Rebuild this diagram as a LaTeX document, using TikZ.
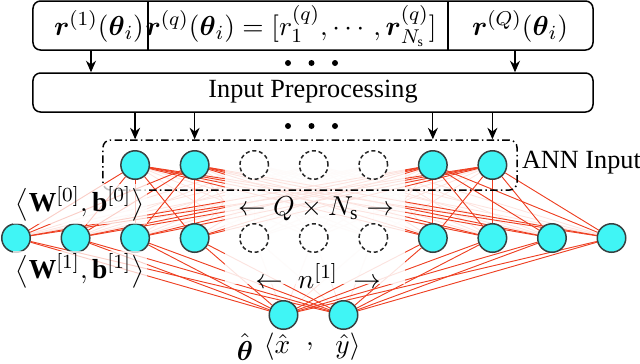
\documentclass[tikz,border=0pt]{standalone}
\usepackage{amsmath}
\usepackage{fontspec}
\setmainfont{Liberation Serif}
\usetikzlibrary{arrows.meta}
\pgfdeclarelayer{bg}
\pgfsetlayers{bg,main}
\definecolor{nodecyan}{RGB}{64,245,245}
\definecolor{nodeedge}{RGB}{55,65,65}
\definecolor{wire}{RGB}{238,62,32}
\tikzset{
  unit/.style={circle, minimum size=11.4pt, inner sep=0pt, fill=nodecyan, draw=nodeedge, line width=0.6pt},
  ghost/.style={circle, minimum size=11.4pt, inner sep=0pt, fill=white, draw=black!85, dash pattern=on 1.6pt off 1.1pt, line width=0.6pt},
  wirel/.style={draw=wire, line width=0.35pt},
  faint/.style={draw=wire!14, line width=0.35pt},
  box/.style={draw, rounded corners=3pt, line width=0.6pt, inner sep=0pt},
  annbox/.style={draw, rounded corners=3pt, line width=0.6pt, inner sep=0pt, dash pattern=on 3pt off 1.3pt on 0.6pt off 1.3pt},
  arr/.style={-{Stealth[length=4.6pt,width=4pt]}, line width=0.5pt},
  dotn/.style={circle, fill=black, inner sep=0pt, minimum size=2.4pt},
  lab/.style={inner sep=1pt},
  olab/.style={inner sep=0pt},
  wlab/.style={inner sep=1pt, fill=white, fill opacity=0.75, text opacity=1},
}
\begin{document}
\begin{tikzpicture}[x=0.4pt, y=-0.4pt, font=\fontsize{10.5}{12}\selectfont]
\useasboundingbox (0,0) rectangle (640,363);

% top boxes
\node[box, minimum width=224pt, minimum height=19.6pt] (top) at (313,25.5) {};
\draw[line width=0.6pt] (148,1) -- (148,50);
\draw[line width=0.6pt] (448,1) -- (448,50);
\node[lab] (r1) at (99,26) {\fontsize{11}{12}\selectfont$\boldsymbol{r}^{(1)}(\boldsymbol{\theta}_i)$};
\node[lab] (rq) at (291,26) {\fontsize{11}{12}\selectfont$\boldsymbol{r}^{(q)}(\boldsymbol{\theta}_i)=[r_1^{(q)},\cdots,\boldsymbol{r}_{N_\mathrm{s}}^{(q)}]$};
\node[lab] (rQ) at (520,26) {\fontsize{11}{12}\selectfont$\boldsymbol{r}^{(Q)}(\boldsymbol{\theta}_i)$};

\node[box, minimum width=224pt, minimum height=15.6pt] (pre) at (313,92.5) {};
\node[lab] (pretext) at (313,92) {Input Preprocessing};

\draw[arr] (91,50) coordinate (a1) -- (a1 |- pre.north);
\draw[arr] (515,50) coordinate (a2) -- (a2 |- pre.north);
\node[dotn] (d1) at (288,63) {};
\node[dotn] (d2) at (311.5,63) {};
\node[dotn] (d3) at (335,63) {};

% ANN input box
\node[annbox, minimum width=165.6pt, minimum height=20pt] (ann) at (310,165) {};
\node[lab, anchor=west] (annlab) at (519,163) {ANN Input};

% layers
\foreach \k in {2,3,7,8} \node[unit] (i\k) at ({16+59.55*\k},165) {};
\foreach \k in {4,5,6} \node[ghost] (i\k) at ({16+59.55*\k},165) {};
\foreach \k in {0,1,2,3,7,8,9,10} \node[unit] (h\k) at ({16+59.55*\k},238) {};
\foreach \k in {4,5,6} \node[ghost] (h\k) at ({16+59.55*\k},238) {};
\node[unit] (o1) at (283.5,315) {};
\node[unit] (o2) at (343.5,315) {};

\foreach \k in {2,3,7,8} \draw[arr] (i\k |- pre.south) -- (i\k |- ann.north);
\node[dotn] (e1) at (288,126) {};
\node[dotn] (e2) at (311.5,126) {};
\node[dotn] (e3) at (335,126) {};

\begin{pgfonlayer}{bg}
\foreach \a in {2,...,8} \foreach \b in {0,...,10} \draw[faint] (i\a) -- (h\b);
\foreach \b in {0,...,10} \foreach \o in {1,2} \draw[faint] (h\b) -- (o\o);
\foreach \a in {2,3,7,8} \foreach \b in {0,1,2,3,7,8,9,10} \draw[wirel] (i\a) -- (h\b);
\foreach \b in {0,1,2,3,7,8,9,10} \foreach \o in {1,2} \draw[wirel] (h\b) -- (o\o);
\fill[white, opacity=0.86] (225,150) rectangle (405,284);
\end{pgfonlayer}

% labels
\node[wlab] (w0) at (80,204) {\fontsize{11}{12}\selectfont$\big\langle\mathbf{W}^{[0]},\mathbf{b}^{[0]}\big\rangle$};
\node[wlab] (w1) at (80,271) {\fontsize{11}{12}\selectfont$\big\langle\mathbf{W}^{[1]},\mathbf{b}^{[1]}\big\rangle$};
\node[lab] (qn) at (316,209) {\fontsize{11}{12}\selectfont$\leftarrow Q\times N_\mathrm{s}\rightarrow$};
\node[lab] (n1) at (318,276) {\fontsize{11}{12}\selectfont$\leftarrow\; n^{[1]}\;\rightarrow$};
\node[olab] (th) at (245,347) {\fontsize{11}{12}\selectfont$\hat{\boldsymbol{\theta}}$};
\node[olab] (xl) at (277,347) {\fontsize{11}{12}\selectfont$\langle\hat{x}$};
\node[olab] (cm) at (310,347) {\fontsize{11}{12}\selectfont$,$};
\node[olab] (yl) at (348,347) {\fontsize{11}{12}\selectfont$\hat{y}\rangle$};
\end{tikzpicture}
\end{document}
